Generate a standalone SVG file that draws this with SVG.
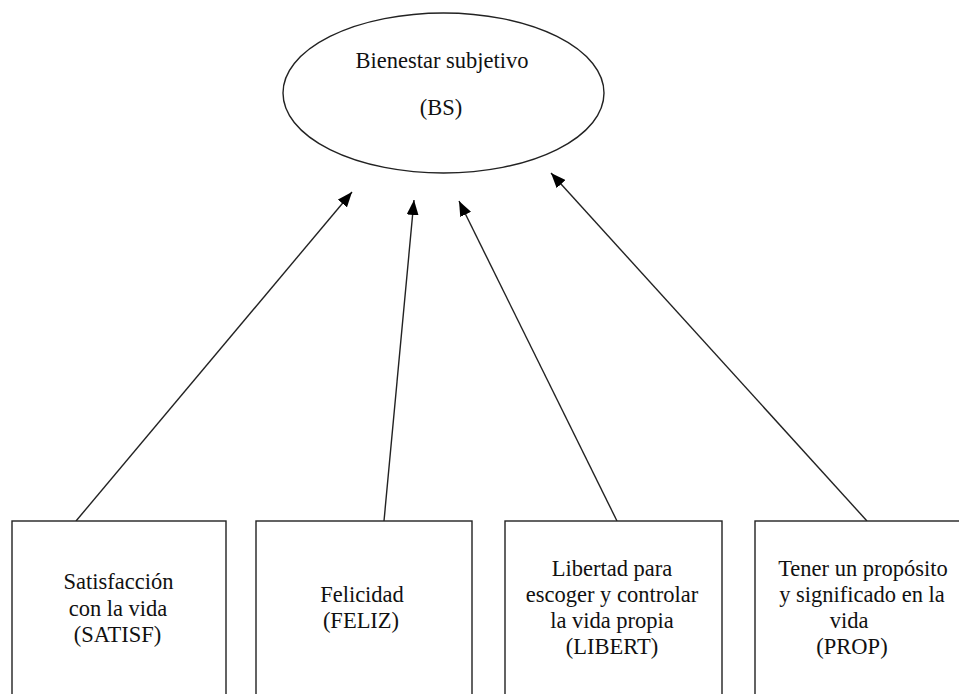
<svg xmlns="http://www.w3.org/2000/svg" width="959" height="694" viewBox="0 0 959 694">
<style>
.shape{fill:#fff;stroke:#222;stroke-width:1.4}
.lbl{font-family:"Liberation Serif","Times New Roman",serif;font-size:22.5px;fill:#111;text-anchor:middle}
.conn{stroke:#222;stroke-width:1.4;fill:none;marker-end:url(#ah)}
</style>
<defs>
<marker id="ah" markerUnits="userSpaceOnUse" markerWidth="16" markerHeight="12" refX="15" refY="6" orient="auto">
<path d="M0,0 L15,6 L0,12 Z" fill="#000"/>
</marker>
</defs>
<rect width="959" height="694" fill="#fff"/>
<g id="connectors">
<line class="conn" x1="76" y1="521" x2="352" y2="192"/>
<line class="conn" x1="384" y1="521" x2="414" y2="200"/>
<line class="conn" x1="617" y1="521" x2="459" y2="201"/>
<line class="conn" x1="867" y1="521" x2="551" y2="173"/>
</g>
<g id="BS">
<ellipse class="shape" cx="443.5" cy="93" rx="160.5" ry="80"/>
<text class="lbl" x="442" y="68">Bienestar subjetivo</text>
<text class="lbl" x="441" y="115">(BS)</text>
</g>
<g id="SATISF">
<rect class="shape" x="12" y="521" width="214" height="180"/>
<text class="lbl" x="118.5" y="589">Satisfacción</text>
<text class="lbl" x="118" y="616">con la vida</text>
<text class="lbl" x="117.5" y="642">(SATISF)</text>
</g>
<g id="FELIZ">
<rect class="shape" x="256" y="521" width="216" height="180"/>
<text class="lbl" x="362" y="602">Felicidad</text>
<text class="lbl" x="361" y="628">(FELIZ)</text>
</g>
<g id="LIBERT">
<rect class="shape" x="505" y="521" width="217" height="180"/>
<text class="lbl" x="612" y="576">Libertad para</text>
<text class="lbl" x="612" y="602">escoger y controlar</text>
<text class="lbl" x="612" y="628">la vida propia</text>
<text class="lbl" x="612" y="654">(LIBERT)</text>
</g>
<g id="PROP">
<rect class="shape" x="755" y="521" width="216" height="180"/>
<text class="lbl" x="863" y="576">Tener un propósito</text>
<text class="lbl" x="862" y="602">y significado en la</text>
<text class="lbl" x="849" y="628">vida</text>
<text class="lbl" x="852" y="654">(PROP)</text>
</g>
</svg>
